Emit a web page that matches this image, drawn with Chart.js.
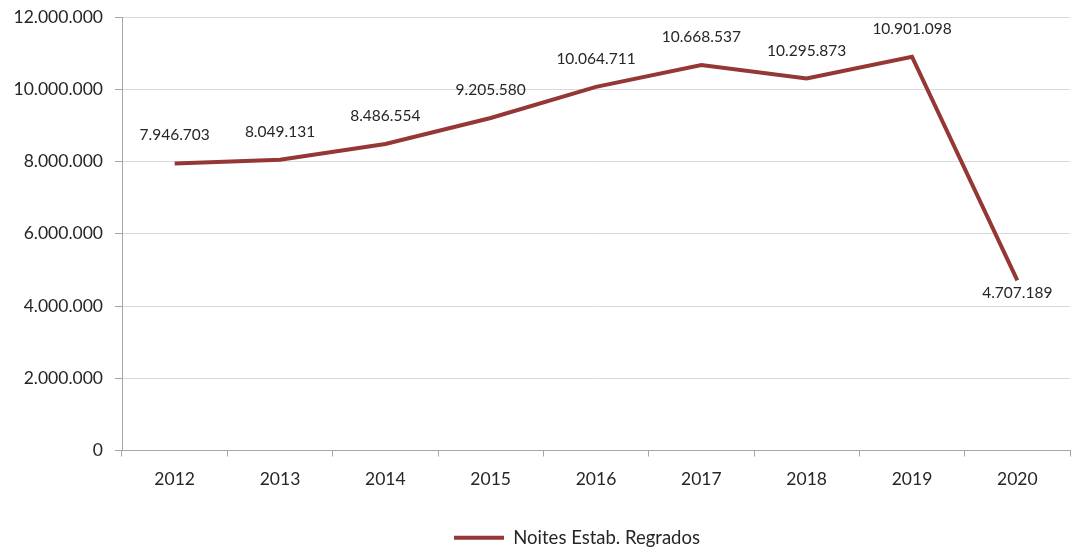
<!DOCTYPE html>
<html>
<head>
<meta charset="utf-8">
<script src="https://cdn.jsdelivr.net/npm/chart.js@4/dist/chart.umd.min.js"></script>
<style>
  html, body { margin: 0; padding: 0; background: #fff; }
  #wrap { width: 1072px; height: 551px; }
</style>
</head>
<body>
<div id="wrap"><canvas id="chart"></canvas></div>
<script>
const years = ["2012", "2013", "2014", "2015", "2016", "2017", "2018", "2019", "2020"];
const nights = [7946703, 8049131, 8486554, 9205580, 10064711, 10668537, 10295873, 10901098, 4707189];
const seriesName = "Noites Estab. Regrados";

const fmt = v => String(v).replace(/\B(?=(\d{3})+(?!\d))/g, ".");
const textColor = "#262626";
const lineColor = "#953735";

// labels drawn above each point, the last one below it
const valueLabels = {
    id: "valueLabels",
    afterDatasetsDraw(chart) {
        const ctx = chart.ctx;
        const meta = chart.getDatasetMeta(0);
        ctx.save();
        ctx.font = "15.5px Lato";
        ctx.fillStyle = textColor;
        ctx.textAlign = "center";
        ctx.textBaseline = "middle";
        meta.data.forEach((pt, i) => {
            const last = i === meta.data.length - 1;
            ctx.fillText(fmt(nights[i]), pt.x, last ? pt.y + 13 : pt.y - 28);
        });
        ctx.restore();
    }
};

// legend sits a bit right of centre, like the original
const legendShift = {
    id: "legendShift",
    afterLayout(chart) {
        chart.legend.left += 42;
        chart.legend.right += 42;
    }
};

new Chart(document.getElementById("chart"), {
    type: "line",
    data: {
        labels: years,
        datasets: [{
            label: seriesName,
            data: nights,
            borderColor: lineColor,
            backgroundColor: lineColor,
            borderWidth: 4,
            pointRadius: 0,
            tension: 0,
        }],
    },
    options: {
        responsive: true,
        maintainAspectRatio: false,
        animation: false,
        layout: { padding: { top: 17, right: 2, bottom: -6, left: 0 } },
        scales: {
            x: {
                offset: true,
                grid: { offset: true, drawOnChartArea: false, tickLength: 6, color: "#a6a6a6" },
                border: { color: "#a6a6a6" },
                ticks: { color: textColor, font: { family: "Lato", size: 17.5 }, padding: 12 },
                afterFit(scale) { scale.height = 76; },
            },
            y: {
                min: 0,
                max: 12000000,
                ticks: {
                    stepSize: 2000000,
                    color: textColor,
                    font: { family: "Lato", size: 17.5 },
                    padding: 12,
                    callback: v => fmt(v),
                },
                grid: { color: "#d9d9d9", tickLength: 7, tickColor: "#a6a6a6" },
                border: { color: "#a6a6a6" },
                afterFit(scale) {
                    scale.width = 122;
                    scale.paddingTop = 0;
                    scale.paddingBottom = 0;
                },
            },
        },
        plugins: {
            legend: {
                position: "bottom",
                labels: {
                    color: textColor,
                    font: { family: "Lato", size: 18.5 },
                    boxWidth: 50,
                    boxHeight: 4,
                    padding: 2,
                    generateLabels(chart) {
                        const items = Chart.defaults.plugins.legend.labels.generateLabels(chart);
                        items.forEach(it => { it.lineWidth = 0; });
                        return items;
                    },
                },
            },
            tooltip: { enabled: false },
        },
    },
    plugins: [valueLabels, legendShift],
});
</script>
</body>
</html>
